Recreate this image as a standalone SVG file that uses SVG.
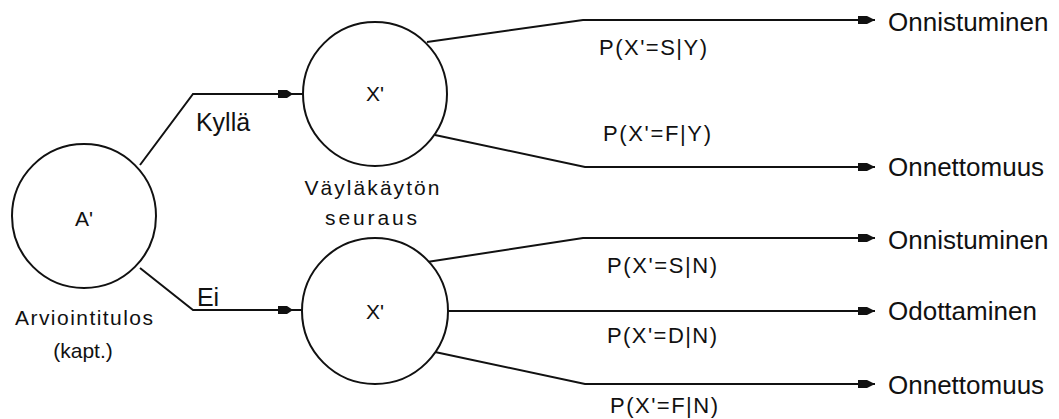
<svg xmlns="http://www.w3.org/2000/svg" width="1059" height="419" viewBox="0 0 1059 419">
<style>
.node circle{fill:#fff;stroke:#111;stroke-width:2}
.conn path{fill:none;stroke:#111;stroke-width:2}
text{font-family:"Liberation Sans",Arial,sans-serif;fill:#111;dominant-baseline:central;text-anchor:middle}
.big{font-size:25px}
.lbl{font-size:21px}
.p{font-size:22px}
.out{font-size:26px;text-anchor:start}
</style>
<defs>
<marker id="arr" markerUnits="userSpaceOnUse" markerWidth="20" markerHeight="12" viewBox="-17 -6 20 12" refX="0" refY="0" orient="auto" overflow="visible">
<path d="M-17,-4 L-8,-4 L0,0 L-8,4 L-17,4 Z" fill="#111"/>
</marker>
<path id="ah" d="M-15,-4 L-6,-4 L0,0 L-6,4 L-15,4 Z" fill="#111"/>
</defs>
<rect width="1059" height="419" fill="#fff"/>
<g id="connectors" class="conn">
<path d="M140,165 L193,94 L303,94"/>
<use href="#ah" x="293" y="94"/>
<path d="M140,268 L193,310 L303,310"/>
<use href="#ah" x="293" y="310"/>
<path d="M427,42 L583,20 L875,20" marker-end="url(#arr)"/>
<path d="M435,135 L585,167 L875,167" marker-end="url(#arr)"/>
<path d="M427,262 L583,238 L875,238" marker-end="url(#arr)"/>
<path d="M448,311 L875,311" marker-end="url(#arr)"/>
<path d="M435,352 L585,384 L875,384" marker-end="url(#arr)"/>
<text class="big" x="223" y="122">Kyllä</text>
<text class="big" x="208" y="297">Ei</text>
<text class="p" x="653" y="47" textLength="108">P(X'=S|Y)</text>
<text class="p" x="657" y="133" textLength="108">P(X'=F|Y)</text>
<text class="p" x="662" y="265" textLength="110">P(X'=S|N)</text>
<text class="p" x="662" y="335" textLength="110">P(X'=D|N)</text>
<text class="p" x="664" y="405" textLength="108">P(X'=F|N)</text>
</g>
<g id="node-a">
<g class="node"><circle cx="84" cy="216" r="72"/></g>
<text class="lbl" x="84" y="218">A'</text>
<text class="lbl" x="84" y="317" textLength="138">Arviointitulos</text>
<text class="lbl" x="83" y="350">(kapt.)</text>
</g>
<g id="node-x1">
<g class="node"><circle cx="375" cy="94" r="72"/></g>
<text class="lbl" x="375" y="93">X'</text>
<text class="lbl" x="372" y="187" textLength="135">Väyläkäytön</text>
<text class="lbl" x="371" y="217" textLength="92">seuraus</text>
</g>
<g id="node-x2">
<g class="node"><circle cx="375" cy="311" r="73"/></g>
<text class="lbl" x="375" y="311">X'</text>
</g>
<g id="out1"><text class="out" x="888" y="22">Onnistuminen</text></g>
<g id="out2"><text class="out" x="888" y="167">Onnettomuus</text></g>
<g id="out3"><text class="out" x="888" y="240">Onnistuminen</text></g>
<g id="out4"><text class="out" x="888" y="311">Odottaminen</text></g>
<g id="out5"><text class="out" x="888" y="385">Onnettomuus</text></g>
</svg>
